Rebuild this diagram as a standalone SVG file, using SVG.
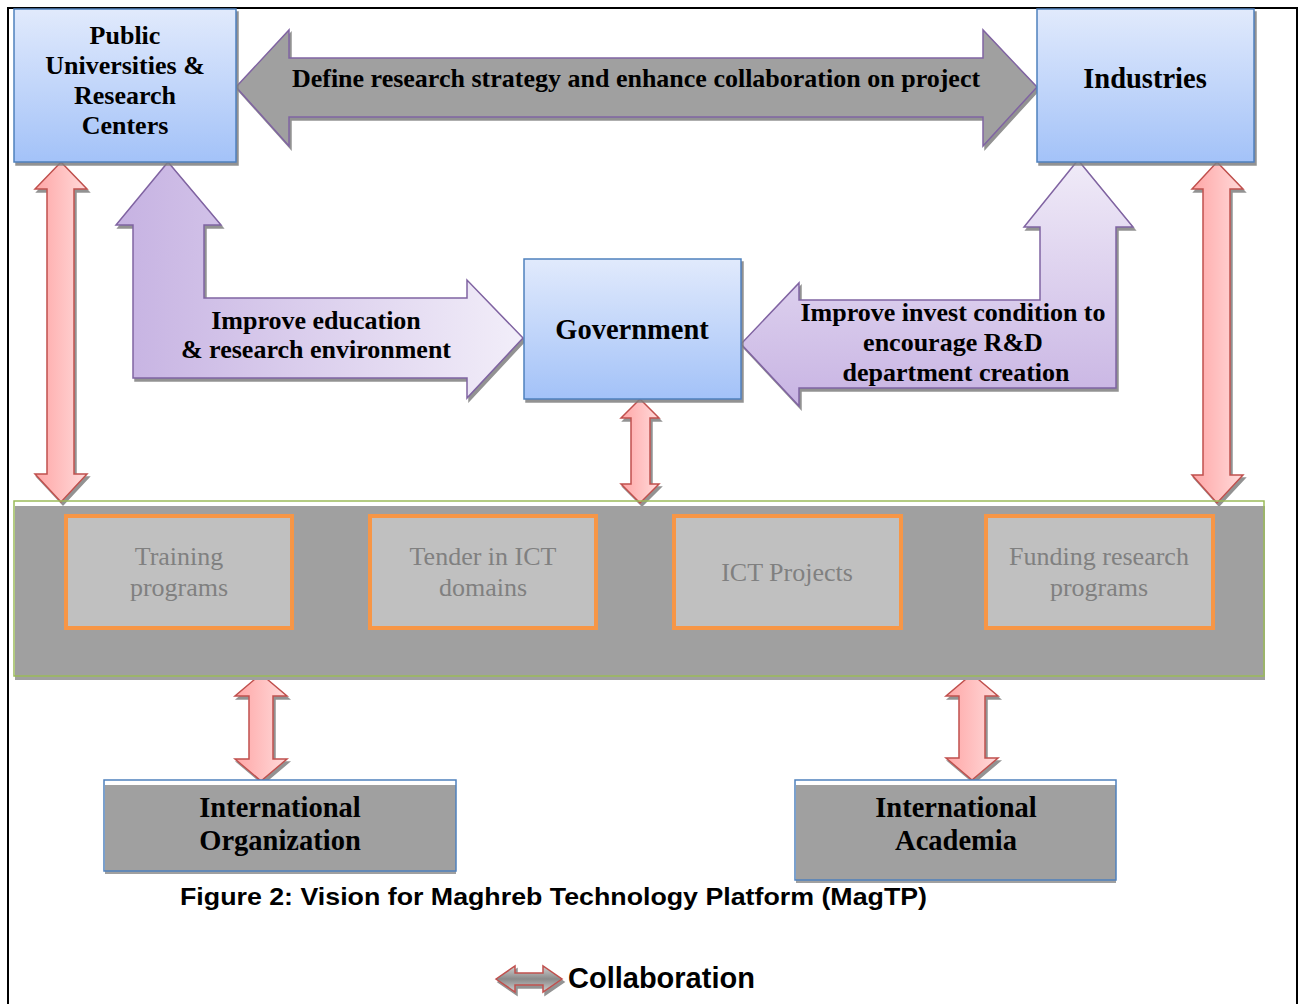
<svg xmlns="http://www.w3.org/2000/svg" width="1304" height="1004" viewBox="0 0 1304 1004">
<defs>
<linearGradient id="gBlue" x1="0" y1="0" x2="0" y2="1"><stop offset="0" stop-color="#e1eafc"/><stop offset="1" stop-color="#a3c2f8"/></linearGradient>
<linearGradient id="gPurpH" x1="0" y1="0" x2="1" y2="0"><stop offset="0" stop-color="#c6b2e2"/><stop offset="1" stop-color="#f2eef9"/></linearGradient>
<linearGradient id="gPurpV" x1="0" y1="0" x2="0" y2="1"><stop offset="0" stop-color="#f0ebf8"/><stop offset="1" stop-color="#c8b4e3"/></linearGradient>
<linearGradient id="gRed" x1="0" y1="0" x2="1" y2="0"><stop offset="0" stop-color="#ffa6a6"/><stop offset="1" stop-color="#ffdada"/></linearGradient>
<linearGradient id="gGrayV" x1="0" y1="0" x2="0" y2="1"><stop offset="0" stop-color="#d0d0d0"/><stop offset="0.5" stop-color="#8a8a8a"/><stop offset="1" stop-color="#d0d0d0"/></linearGradient>
<filter id="sh" x="-10%" y="-10%" width="130%" height="130%"><feDropShadow dx="2" dy="3" stdDeviation="0.6" flood-color="#7f7f7f" flood-opacity="0.85"/></filter>
</defs>
<style>
.blue{fill:url(#gBlue);stroke:#4f81bd;stroke-width:1.5;filter:url(#sh)}
.lbl{font-family:"Liberation Serif",serif;font-weight:bold;font-size:26px;fill:#000;text-anchor:middle}
.big{font-size:28.5px}
.red{fill:url(#gRed);stroke:#c0504d;stroke-width:1.5;filter:url(#sh)}
.purp{stroke:#8064a2;stroke-width:1.5;filter:url(#sh)}
.inner{fill:#c0c0c0;stroke:#f79646;stroke-width:4}
.itxt{font-family:"Liberation Serif",serif;font-size:26px;fill:#808080;text-anchor:middle}
</style>
<rect x="0" y="0" width="1304" height="1004" fill="#ffffff"/>
<rect x="8" y="8" width="1289" height="1010" fill="none" stroke="#000" stroke-width="2"/>

<g id="connectors">
<g id="arrow-define">
<polygon class="purp" fill="#a0a0a0" points="236,87 289,30 289,58 983,58 983,30 1037,87 983,146 983,117 289,117 289,146"/>
<text class="lbl" x="636" y="87">Define research strategy and enhance collaboration on project</text>
</g>
<g id="arrow-education">
<polygon class="purp" fill="url(#gPurpH)" points="168,162 221,225 204,225 204,298 467,298 467,280 523,338 467,398 467,378 133,378 133,225 116,225"/>
<text class="lbl" x="316" y="329">Improve education</text>
<text class="lbl" x="316" y="358">&amp; research environment</text>
</g>
<g id="arrow-invest">
<polygon class="purp" fill="url(#gPurpV)" points="1078,160 1133,227 1116,227 1116,388 799,388 799,406 741,344 799,283 799,300 1040,300 1040,227 1024,227"/>
<text class="lbl" x="953" y="321">Improve invest condition to</text>
<text class="lbl" x="953" y="351">encourage R&amp;D</text>
<text class="lbl" x="956" y="381">department creation</text>
</g>
<polygon class="red" points="61,162 87,189 74,189 74,474 87,474 61,502 35,474 47,474 47,189 35,189"/>
<polygon class="red" points="1217,162 1243,189 1230,189 1230,475 1243,475 1217,503 1192,475 1203,475 1203,189 1192,189"/>
<polygon class="red" points="640,399 659,418 650,418 650,484 659,484 640,503 621,484 631,484 631,418 621,418"/>
<polygon class="red" points="261,674 287,696 273,696 273,759 287,759 261,781 235,759 249,759 249,696 235,696"/>
<polygon class="red" points="972,674 998,696 985,696 985,758 998,758 972,780 946,758 959,758 959,696 946,696"/>
</g>

<g id="node-universities">
<rect class="blue" x="14" y="9" width="222" height="153"/>
<text class="lbl" x="125" y="44">Public</text>
<text class="lbl" x="125" y="74">Universities &amp;</text>
<text class="lbl" x="125" y="104">Research</text>
<text class="lbl" x="125" y="134">Centers</text>
</g>
<g id="node-industries">
<rect class="blue" x="1037" y="9" width="217" height="153"/>
<text class="lbl big" x="1145" y="88">Industries</text>
</g>
<g id="node-government">
<rect class="blue" x="524" y="259" width="217" height="140"/>
<text class="lbl big" x="632" y="339">Government</text>
</g>

<g id="node-platform">
<rect x="15" y="506" width="1250" height="174" fill="#a0a0a0"/>
<rect x="14" y="501" width="1250" height="175" fill="none" stroke="#9bbb59" stroke-width="1.5"/>
<g id="node-training">
<rect class="inner" x="66" y="516" width="226" height="112"/>
<text class="itxt" x="179" y="565">Training</text>
<text class="itxt" x="179" y="596">programs</text>
</g>
<g id="node-tender">
<rect class="inner" x="370" y="516" width="226" height="112"/>
<text class="itxt" x="483" y="565">Tender in ICT</text>
<text class="itxt" x="483" y="596">domains</text>
</g>
<g id="node-ictprojects">
<rect class="inner" x="674" y="516" width="227" height="112"/>
<text class="itxt" x="787" y="581">ICT Projects</text>
</g>
<g id="node-funding">
<rect class="inner" x="986" y="516" width="227" height="112"/>
<text class="itxt" x="1099" y="565">Funding research</text>
<text class="itxt" x="1099" y="596">programs</text>
</g>
</g>

<g id="node-intorg">
<rect x="104" y="780" width="352" height="91" fill="#ffffff"/>
<rect x="105" y="785" width="351" height="89" fill="#a0a0a0"/>
<rect x="104" y="780" width="352" height="91" fill="none" stroke="#4f81bd" stroke-width="1.5"/>
<text class="lbl big" x="280" y="817">International</text>
<text class="lbl big" x="280" y="850">Organization</text>
</g>
<g id="node-intacademia">
<rect x="795" y="780" width="321" height="100" fill="#ffffff"/>
<rect x="796" y="785" width="320" height="98" fill="#a0a0a0"/>
<rect x="795" y="780" width="321" height="100" fill="none" stroke="#4f81bd" stroke-width="1.5"/>
<text class="lbl big" x="956" y="817">International</text>
<text class="lbl big" x="956" y="850">Academia</text>
</g>

<text x="180" y="905" font-family="Liberation Sans, Arial, sans-serif" font-weight="bold" font-size="24" fill="#000" textLength="747" lengthAdjust="spacingAndGlyphs">Figure 2: Vision for Maghreb Technology Platform (MagTP)</text>

<g id="legend">
<polygon fill="url(#gGrayV)" stroke="#c0504d" stroke-width="1.5" filter="url(#sh)" points="496,979 515,966 515,973 543,973 543,966 562,979 543,992 543,985 515,985 515,992"/>
<text x="568" y="988" font-family="Liberation Sans, Arial, sans-serif" font-weight="bold" font-size="29" fill="#000">Collaboration</text>
</g>
</svg>
